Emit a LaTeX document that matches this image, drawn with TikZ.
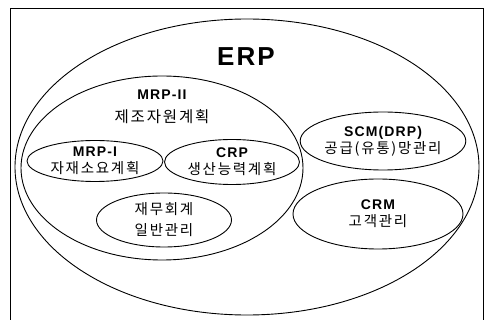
\documentclass[tikz,border=0pt]{standalone}
\usepackage{fontspec}
\setmainfont{Liberation Sans}[LetterSpace=8]
\newfontfamily\kor{Noto Sans CJK KR}[LetterSpace=12]
\usetikzlibrary{shapes.geometric}

\begin{document}
\begin{tikzpicture}[x=1pt, y=-1pt, module/.style = {draw, ellipse, line width=0.9pt, inner sep=0pt, align=center, font=\bfseries\fontsize{14}{21}\selectfont}, title/.style = {font=\bfseries\fontsize{14}{16}\selectfont}, sub/.style = {font=\kor\fontsize{15.5}{17}\selectfont}]

    % frame
    \useasboundingbox (0,0) rectangle (490,320);
    \draw[line width=0.8pt] (10,320) -- (10,8) -- (483,8) -- (483,320);

    % ellipses
    \node[module, minimum width=464, minimum height=296] (erp) at (247,167) {};
    \node[module, minimum width=282, minimum height=184] (mrp2) at (162,168) {};
    \node[module, minimum width=136, minimum height=41] (mrp1) at (95,161) {MRP-I\\[-4pt]{\kor\mdseries\fontsize{14.5}{16}\selectfont 자재소요계획}};
    \node[module, minimum width=135, minimum height=45] (crp) at (232,162) {CRP\\[-4pt]{\kor\mdseries\fontsize{14.5}{16}\selectfont 생산능력계획}};
    \node[module, minimum width=135, minimum height=54] (fin) at (164,220) {\kor\mdseries\fontsize{14.5}{22}\selectfont 재무회계\\\kor\mdseries\fontsize{14.5}{22}\selectfont 일반관리};
    \node[module, minimum width=164, minimum height=58] (scm) at (383,141) {SCM(DRP)\\[-4pt]{\kor\mdseries\fontsize{14.5}{16}\selectfont 공급(유통)망관리}};
    \node[module, minimum width=170, minimum height=70] (crm) at (378,214) {CRM\\[-4pt]{\kor\mdseries\fontsize{14.5}{16}\selectfont 고객관리}};

    % labels
    \node[font=\bfseries\fontsize{26}{28}\selectfont] (erplabel) at (246,57) {ERP};
    \node[title] (mrp2label) at (162,95) {MRP-II};
    \node[sub] (mrp2sub) at (162,117) {제조자원계획};

\end{tikzpicture}
\end{document}
